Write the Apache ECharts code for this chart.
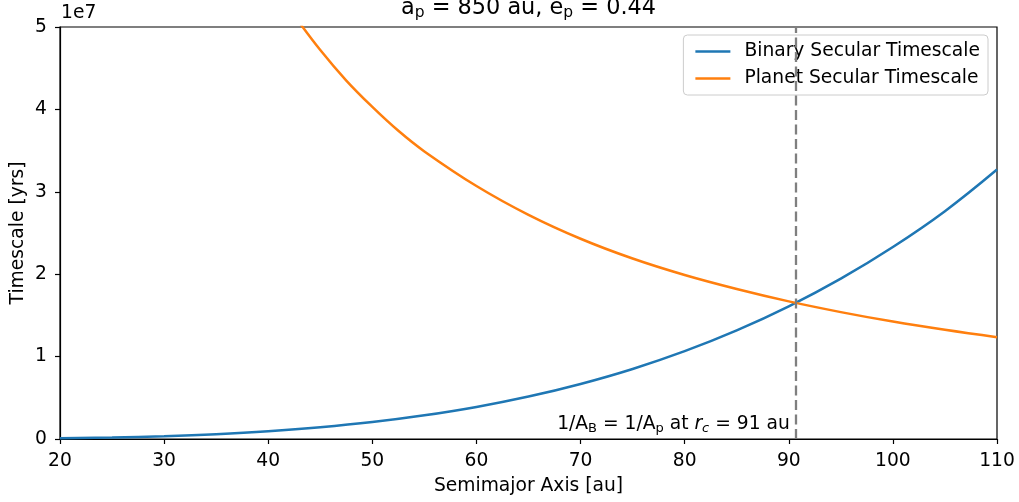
<!DOCTYPE html>
<html>
<head>
<meta charset="utf-8">
<script src="https://cdn.jsdelivr.net/npm/echarts@6/dist/echarts.min.js"></script>
<style>html,body{margin:0;padding:0;background:#fff}#c{width:1019px;height:502px}</style>
</head>
<body>
<div id="c"></div>
<script>
// Semimajor axis samples [au]
var binaryA = [20, 25, 30, 35, 40, 45, 50, 55, 60, 65, 70, 75, 80, 85, 90, 95, 100, 105, 110];
// Binary secular timescale [yrs]
var binaryT = [0.008e7, 0.0181e7, 0.0344e7, 0.0589e7, 0.094e7, 0.142e7, 0.205e7, 0.287e7, 0.389e7, 0.515e7, 0.668e7, 0.850e7, 1.066e7, 1.318e7, 1.610e7, 1.946e7, 2.330e7, 2.765e7, 3.270e7];
var planetA = [42.5, 45, 47.5, 50, 52.5, 55, 60, 65, 70, 75, 80, 85, 90, 95, 100, 105, 110];
// Planet secular timescale [yrs]
var planetT = [5.14e7, 4.72e7, 4.35e7, 4.03e7, 3.74e7, 3.49e7, 3.07e7, 2.72e7, 2.43e7, 2.19e7, 1.99e7, 1.82e7, 1.67e7, 1.54e7, 1.425e7, 1.325e7, 1.236e7];
var rc = 90.7;
var xTicks = [20, 30, 40, 50, 60, 70, 80, 90, 100, 110];
var yTicks = [0, 1, 2, 3, 4, 5];

var font = 'DejaVu Sans';
var fs = 18.7;
function pairs(a, b) { return a.map(function (v, i) { return [v, b[i]]; }); }

var chart = echarts.init(document.getElementById('c'), null, {renderer: 'canvas'});
var option = {
  animation: false,
  textStyle: {fontFamily: font},
  grid: {left: 60, right: 22, top: 27, bottom: 63, containLabel: false, outerBoundsMode: 'none', show: true, borderColor: '#000', borderWidth: 1.2, backgroundColor: 'transparent'},
  xAxis: {
    type: 'value', min: 20, max: 110, interval: 10,
    name: 'Semimajor Axis [au]', nameLocation: 'middle', nameGap: 38,
    nameTextStyle: {fontFamily: font, fontSize: fs, color: '#000'},
    axisLine: {show: true, onZero: false, lineStyle: {color: '#000', width: 1.2}},
    axisTick: {show: true, length: 5, lineStyle: {color: '#000', width: 1.2}},
    axisLabel: {margin: 13, fontFamily: font, fontSize: fs, color: '#000'},
    splitLine: {show: false}
  },
  yAxis: {
    type: 'value', min: 0, max: 5e7, interval: 1e7,
    name: 'Timescale [yrs]', nameLocation: 'middle', nameGap: 32, nameMoveOverlap: false,
    nameTextStyle: {fontFamily: font, fontSize: fs, color: '#000'},
    axisLine: {show: true, lineStyle: {color: '#000', width: 1.2}},
    axisTick: {show: true, length: 5, lineStyle: {color: '#000', width: 1.2}},
    axisLabel: {margin: 13, fontFamily: font, fontSize: fs, color: '#000', formatter: function (v) { return String(Math.round(v / 1e7)); }},
    splitLine: {show: false}
  },
  legend: {
    orient: 'vertical', right: 31, top: 35,
    data: ['Binary Secular Timescale', 'Planet Secular Timescale'],
    icon: 'rect', itemWidth: 35, itemHeight: 2.6, itemGap: 8,
    backgroundColor: 'rgba(255,255,255,0.8)', borderColor: '#cccccc', borderWidth: 1, borderRadius: 4,
    padding: [7, 8, 7, 12],
    textStyle: {fontFamily: font, fontSize: fs, color: '#000', padding: [0, 0, 0, 9]}
  },
  series: [
    {
      name: 'Binary Secular Timescale', type: 'line', data: pairs(binaryA, binaryT),
      smooth: 0.4, showSymbol: false, clip: true, z: 3,
      lineStyle: {color: '#1f77b4', width: 2.5}, itemStyle: {color: '#1f77b4'},
      markLine: {
        silent: true, symbol: 'none', label: {show: false},
        lineStyle: {color: '#7f7f7f', type: [10, 4.5], width: 2.3},
        data: [{xAxis: rc}]
      }
    },
    {
      name: 'Planet Secular Timescale', type: 'line', data: pairs(planetA, planetT),
      smooth: 0.4, showSymbol: false, clip: true, z: 3,
      lineStyle: {color: '#ff7f0e', width: 2.5}, itemStyle: {color: '#ff7f0e'}
    }
  ]
};
chart.setOption(option);

var tl = chart.convertToPixel({gridIndex: 0}, [20, 5e7]);
var br = chart.convertToPixel({gridIndex: 0}, [110, 0]);
var ann = chart.convertToPixel({gridIndex: 0}, [rc - 0.6, 0.18e7]);
chart.setOption({
  graphic: [
    {
      type: 'text', left: tl[0] + 1, top: tl[1] - 23,
      style: {text: '1e7', font: fs + 'px "DejaVu Sans"', fill: '#000'}
    },
    {
      type: 'text', x: (tl[0] + br[0]) / 2, y: 21,
      style: {
        text: 'a{s|p} = 850 au, e{s|p} = 0.44',
        fontFamily: font, fontSize: 22.4, fill: '#000',
        align: 'center', verticalAlign: 'bottom',
        rich: {s: {fontSize: 15.5, fontFamily: font, padding: [10, 0, 0, 0]}}
      }
    },
    {
      type: 'text', x: ann[0], y: ann[1],
      style: {
        text: '1/A{s|B} = 1/A{s|p} at {i|r}{si|c} = 91 au',
        fontFamily: font, fontSize: fs, fill: '#000',
        align: 'right', verticalAlign: 'middle',
        rich: {
          s: {fontSize: 13, fontFamily: font, padding: [8, 0, 0, 0]},
          i: {fontSize: fs, fontFamily: font, fontStyle: 'italic'},
          si: {fontSize: 13, fontFamily: font, fontStyle: 'italic', padding: [8, 0, 0, 0]}
        }
      }
    }
  ]
});
</script>
</body>
</html>
